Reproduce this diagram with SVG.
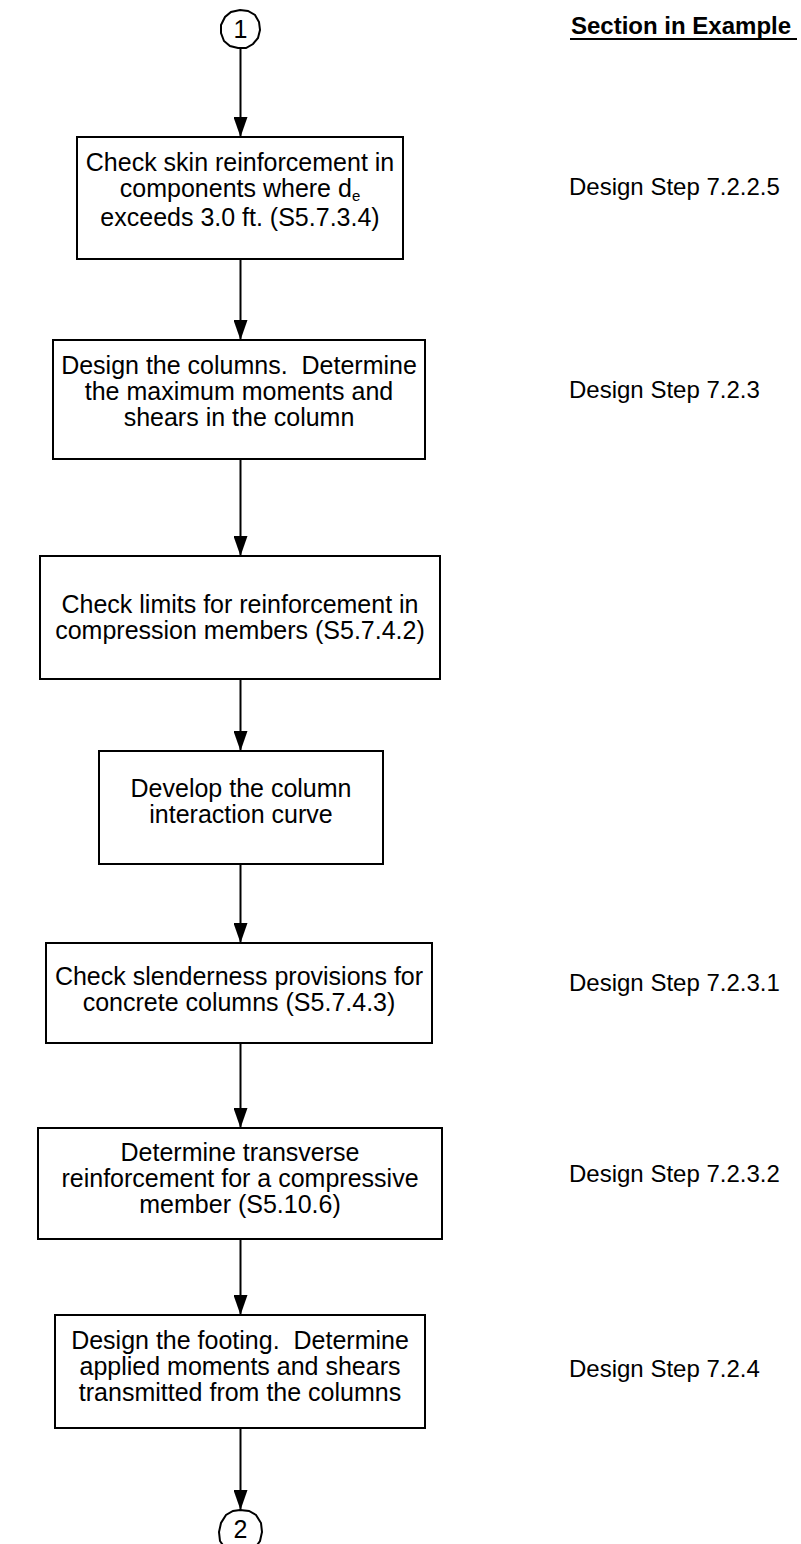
<svg xmlns="http://www.w3.org/2000/svg" width="801" height="1544" viewBox="0 0 801 1544">
<defs>
<style>
.box{fill:#fff;stroke:#000;stroke-width:2}
.t{font-family:"Liberation Sans",Arial,sans-serif;font-size:25px;fill:#000;text-anchor:middle;white-space:pre}
.r{font-family:"Liberation Sans",Arial,sans-serif;font-size:24px;fill:#000}
.hd{font-family:"Liberation Sans",Arial,sans-serif;font-size:24px;font-weight:bold;fill:#000}
.ln{stroke:#000;stroke-width:2;fill:none}
.con{fill:#fff;stroke:#000;stroke-width:2}
</style>
<marker id="ah" viewBox="0 0 20 14" refX="20" refY="7" markerWidth="20" markerHeight="14" markerUnits="userSpaceOnUse" orient="auto">
<path d="M0,0 L20,7 L0,14 z" fill="#000"/>
</marker>
</defs>
<rect width="801" height="1544" fill="#fff"/>

<g id="header">
<text class="hd" x="571" y="34">Section in Example</text>
<line x1="570" y1="39" x2="797" y2="39" stroke="#000" stroke-width="2"/>
</g>

<g id="connectors">
<line class="ln" x1="240.5" y1="48" x2="240.5" y2="137" marker-end="url(#ah)"/>
<line class="ln" x1="240.5" y1="259" x2="240.5" y2="340" marker-end="url(#ah)"/>
<line class="ln" x1="240.5" y1="459" x2="240.5" y2="556" marker-end="url(#ah)"/>
<line class="ln" x1="240.5" y1="679" x2="240.5" y2="751" marker-end="url(#ah)"/>
<line class="ln" x1="240.5" y1="864" x2="240.5" y2="943" marker-end="url(#ah)"/>
<line class="ln" x1="240.5" y1="1043" x2="240.5" y2="1128" marker-end="url(#ah)"/>
<line class="ln" x1="240.5" y1="1239" x2="240.5" y2="1315" marker-end="url(#ah)"/>
<line class="ln" x1="240.5" y1="1428" x2="240.5" y2="1510" marker-end="url(#ah)"/>
</g>

<g id="conn1">
<polygon class="con" points="240,10 248,11 255,15 259,22 260,30 258,38 253,44 246,48 238,48 230,46 224,41 221,33 221,25 225,17 231,12"/>
<text class="t" x="240.5" y="38">1</text>
</g>

<g id="step1">
<rect class="box" x="77" y="137" width="326" height="122"/>
<text class="t" x="240" y="171">Check skin reinforcement in</text>
<text class="t" x="240" y="197">components where d<tspan font-size="15" dy="4">e</tspan></text>
<text class="t" x="240" y="226">exceeds 3.0 ft. (S5.7.3.4)</text>
</g>
<text class="r" x="569" y="195">Design Step 7.2.2.5</text>

<g id="step2">
<rect class="box" x="53" y="340" width="372" height="119"/>
<text class="t" x="239" y="374" xml:space="preserve">Design the columns.  Determine</text>
<text class="t" x="239" y="400">the maximum moments and</text>
<text class="t" x="239" y="426">shears in the column</text>
</g>
<text class="r" x="569" y="398">Design Step 7.2.3</text>

<g id="step3">
<rect class="box" x="40" y="556" width="400" height="123"/>
<text class="t" x="240" y="613">Check limits for reinforcement in</text>
<text class="t" x="240" y="639">compression members (S5.7.4.2)</text>
</g>

<g id="step4">
<rect class="box" x="99" y="751" width="284" height="113"/>
<text class="t" x="241" y="797">Develop the column</text>
<text class="t" x="241" y="823">interaction curve</text>
</g>

<g id="step5">
<rect class="box" x="46" y="943" width="386" height="100"/>
<text class="t" x="239" y="985">Check slenderness provisions for</text>
<text class="t" x="239" y="1011">concrete columns (S5.7.4.3)</text>
</g>
<text class="r" x="569" y="991">Design Step 7.2.3.1</text>

<g id="step6">
<rect class="box" x="38" y="1128" width="404" height="111"/>
<text class="t" x="240" y="1161">Determine transverse</text>
<text class="t" x="240" y="1187">reinforcement for a compressive</text>
<text class="t" x="240" y="1213">member (S5.10.6)</text>
</g>
<text class="r" x="569" y="1182">Design Step 7.2.3.2</text>

<g id="step7">
<rect class="box" x="55" y="1315" width="370" height="113"/>
<text class="t" x="240" y="1349" xml:space="preserve">Design the footing.  Determine</text>
<text class="t" x="240" y="1375">applied moments and shears</text>
<text class="t" x="240" y="1401">transmitted from the columns</text>
</g>
<text class="r" x="569" y="1377">Design Step 7.2.4</text>

<g id="conn2">
<polygon class="con" points="240,1510 249,1511 256,1515 261,1523 262,1532 260,1541 255,1548 225,1548 220,1541 219,1532 221,1523 226,1515 233,1511"/>
<text class="t" x="240.5" y="1538">2</text>
</g>
</svg>
